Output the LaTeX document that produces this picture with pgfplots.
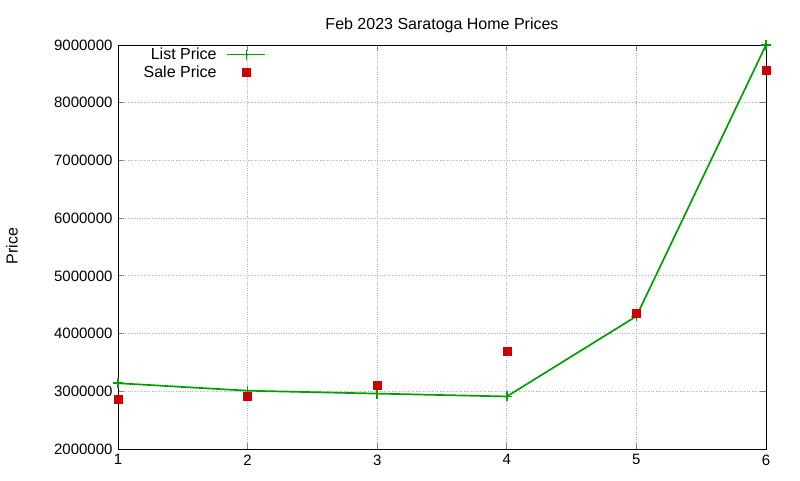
\documentclass[border=0pt]{standalone}
\usepackage{pgfplots}
\pgfplotsset{compat=1.18}
\usepackage{fontspec}
\setmainfont{Liberation Sans}
\definecolor{lgreen}{RGB}{0,160,0}
\definecolor{sred}{RGB}{204,0,0}
\begin{document}
\begin{tikzpicture}[x=1pt,y=1pt,font=\fontsize{15}{17}\selectfont]
\path[use as bounding box] (0,0) rectangle (800,480);
\node[rotate=90, font=\fontsize{16}{18}\selectfont] at (12,234) {Price};
\begin{axis}[
  at={(118pt,31pt)}, anchor=south west,
  scale only axis, width=648pt, height=404pt,
  xmin=1, xmax=6, ymin=2000000, ymax=9000000,
  xtick={1,2,3,4,5,6},
  ytick={2000000,3000000,4000000,5000000,6000000,7000000,8000000,9000000},
  scaled y ticks=false,
  yticklabel style={/pgf/number format/fixed,/pgf/number format/1000 sep={}, xshift=-2pt},
  xticklabel style={yshift=-2pt},
  /pgf/number format/assume math mode=true,
  tick pos=both, tick align=inside,
  major tick length=6pt,
  tick style={line width=0.8pt},
  grid=major, grid style={gray!60, dotted, line width=0.8pt},
  axis line style={line width=0.8pt},
  title={Feb 2023 Saratoga Home Prices},
  title style={at={(0.5,1)}, yshift=3pt, font=\fontsize{16}{18}\selectfont},
  legend plot pos=right,
  legend cell align=right,
  legend style={draw=none, fill=none, at={(axis cs:2.169,9020000)}, anchor=north east, row sep=1pt, font=\fontsize{16}{18}\selectfont},
]
\addplot[lgreen, line width=1.7pt, mark=+, mark size=5pt, mark options={line width=1.5pt},
  legend image code/.code={\path (0pt,0pt); \draw[mark repeat=2,mark phase=2] plot coordinates {(8pt,0pt) (27pt,0pt) (46pt,0pt)};}]
  coordinates {(1,3140000) (2,3010000) (3,2960000) (4,2910000) (5,4300000) (6,9000000)};
\addlegendentry{List Price}
\addplot[only marks, mark=square*, color=sred, mark size=4pt,
  legend image code/.code={\path (0pt,0pt) (46pt,0pt); \draw plot coordinates {(27pt,0pt)};}]
  coordinates {(1,2855000) (2,2920000) (3,3100000) (4,3700000) (5,4360000) (6,8560000)};
\addlegendentry{Sale Price}
\end{axis}
\end{tikzpicture}
\end{document}
